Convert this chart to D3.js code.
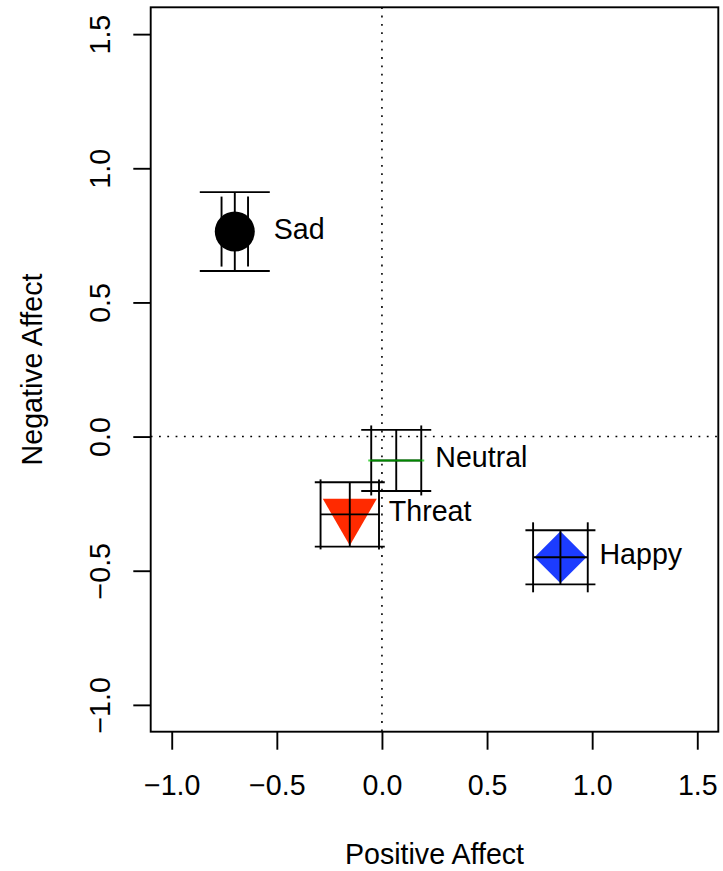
<!DOCTYPE html>
<html>
<head>
<meta charset="utf-8">
<script src="https://cdn.jsdelivr.net/npm/d3@7"></script>
<style>
  html, body { margin: 0; padding: 0; background: #ffffff; }
  svg { display: block; font-family: "Liberation Sans", Arial, Helvetica, sans-serif; }
</style>
</head>
<body>
<svg id="chart" width="723" height="871"></svg>
<script>
// Mean affect ratings per emotion condition, with standard errors
const emotions   = ["Sad", "Neutral", "Threat", "Happy"];
const positive   = [-0.700, 0.068, -0.153, 0.849];
const negative   = [0.764, -0.089, -0.290, -0.450];
const positiveSE = [0.063, 0.119, 0.139, 0.130];
const negativeSE = [0.147, 0.114, 0.120, 0.101];

const xTicks = [-1.0, -0.5, 0.0, 0.5, 1.0, 1.5];
const yTicks = [-1.0, -0.5, 0.0, 0.5, 1.0, 1.5];
const xDomain = [-1.1, 1.6];
const yDomain = [-1.1, 1.6];

const xTitle = "Positive Affect";
const yTitle = "Negative Affect";

// Marker style per condition
const markers = { Sad: "circle", Neutral: "dash", Threat: "triangle", Happy: "diamond" };
const colors  = { Sad: "#000000", Neutral: "#00c000", Threat: "#ff2a00", Happy: "#1c3cff" };

const plot = { left: 150.7, right: 718.3, top: 7.3, bottom: 731.7 };
const fontSize = 28.6;
const lw = 1.9;
const cap = 35;

const svg = d3.select("#chart");

const x = d3.scaleLinear().domain(xDomain).range([plot.left, plot.right]);
const y = d3.scaleLinear().domain(yDomain).range([plot.bottom, plot.top]);

// reference lines at zero
svg.append("line")
  .attr("x1", x(0)).attr("x2", x(0))
  .attr("y1", plot.top).attr("y2", plot.bottom)
  .attr("stroke", "#000").attr("stroke-width", 1.6)
  .attr("stroke-dasharray", "1.8 6.5");
svg.append("line")
  .attr("x1", plot.left).attr("x2", plot.right)
  .attr("y1", y(0)).attr("y2", y(0))
  .attr("stroke", "#000").attr("stroke-width", 1.6)
  .attr("stroke-dasharray", "1.8 6.5");

const data = emotions.map((e, i) => ({
  name: e, px: positive[i], ny: negative[i], pse: positiveSE[i], nse: negativeSE[i]
}));

// markers
const g = svg.append("g");
data.forEach(d => {
  const cx = x(d.px), cy = y(d.ny);
  const kind = markers[d.name];
  if (kind === "circle") {
    g.append("path")
      .attr("d", d3.symbol(d3.symbolCircle, Math.PI * 20 * 20)())
      .attr("transform", `translate(${cx},${cy})`)
      .attr("fill", colors[d.name]);
  } else if (kind === "triangle") {
    const side = 54;
    g.append("path")
      .attr("d", d3.symbol(d3.symbolTriangle, Math.sqrt(3) / 4 * side * side)())
      .attr("transform", `translate(${cx},${cy}) rotate(180)`)
      .attr("fill", colors[d.name]);
  } else if (kind === "diamond") {
    const side = 26 * Math.SQRT2;
    g.append("path")
      .attr("d", d3.symbol(d3.symbolSquare, side * side)())
      .attr("transform", `translate(${cx},${cy}) rotate(45)`)
      .attr("fill", colors[d.name]);
  }
});

// error bars with wide caps
const eb = svg.append("g").attr("stroke", "#000").attr("stroke-width", lw).attr("fill", "none");
data.forEach(d => {
  const cx = x(d.px), cy = y(d.ny);
  const y1 = y(d.ny + d.nse), y2 = y(d.ny - d.nse);
  const x1 = x(d.px - d.pse), x2 = x(d.px + d.pse);
  eb.append("line").attr("x1", cx).attr("x2", cx).attr("y1", y1).attr("y2", y2);
  eb.append("line").attr("x1", cx - cap).attr("x2", cx + cap).attr("y1", y1).attr("y2", y1);
  eb.append("line").attr("x1", cx - cap).attr("x2", cx + cap).attr("y1", y2).attr("y2", y2);
  eb.append("line").attr("x1", x1).attr("x2", x2).attr("y1", cy).attr("y2", cy);
  eb.append("line").attr("x1", x1).attr("x2", x1).attr("y1", cy - cap).attr("y2", cy + cap);
  eb.append("line").attr("x1", x2).attr("x2", x2).attr("y1", cy - cap).attr("y2", cy + cap);
});

// dash marker drawn over its bar
data.filter(d => markers[d.name] === "dash").forEach(d => {
  const cx = x(d.px), cy = y(d.ny);
  svg.append("line")
    .attr("x1", cx - 28).attr("x2", cx + 28)
    .attr("y1", cy).attr("y2", cy)
    .attr("stroke", colors[d.name]).attr("stroke-opacity", 0.7)
    .attr("stroke-width", 2);
});

// condition labels to the right of each point
svg.append("g").selectAll("text").data(data).join("text")
  .attr("x", d => x(d.px) + 39)
  .attr("y", d => y(d.ny) + 7)
  .attr("font-size", fontSize)
  .attr("fill", "#000")
  .text(d => d.name);

// plot frame
svg.append("rect")
  .attr("x", plot.left).attr("y", plot.top)
  .attr("width", plot.right - plot.left).attr("height", plot.bottom - plot.top)
  .attr("fill", "none").attr("stroke", "#000").attr("stroke-width", lw);

const fmt = d3.format(".1f");

// x axis
const xAxis = svg.append("g")
  .attr("transform", `translate(0,${plot.bottom})`)
  .call(d3.axisBottom(x).tickValues(xTicks).tickSize(18).tickSizeOuter(0).tickFormat(fmt));
xAxis.select(".domain").remove();
xAxis.selectAll(".tick line").attr("stroke-width", lw);
xAxis.selectAll(".tick text")
  .attr("y", 63.5).attr("dy", null)
  .attr("font-size", fontSize).attr("font-family", null).attr("fill", "#000");

// y axis with labels parallel to the axis
const yAxis = svg.append("g")
  .attr("transform", `translate(${plot.left},0)`)
  .call(d3.axisLeft(y).tickValues(yTicks).tickSize(17.4).tickSizeOuter(0).tickFormat(fmt));
yAxis.select(".domain").remove();
yAxis.selectAll(".tick line").attr("stroke-width", lw);
yAxis.selectAll(".tick text")
  .attr("x", 0).attr("y", -40.7).attr("dy", null)
  .attr("transform", "rotate(-90)")
  .attr("text-anchor", "middle")
  .attr("font-size", fontSize).attr("font-family", null).attr("fill", "#000");

// axis titles
svg.append("text")
  .attr("x", (plot.left + plot.right) / 2)
  .attr("y", 863.5)
  .attr("text-anchor", "middle")
  .attr("font-size", fontSize)
  .text(xTitle);
svg.append("text")
  .attr("transform", `translate(42,${(plot.top + plot.bottom) / 2}) rotate(-90)`)
  .attr("text-anchor", "middle")
  .attr("font-size", fontSize)
  .text(yTitle);
</script>
</body>
</html>
